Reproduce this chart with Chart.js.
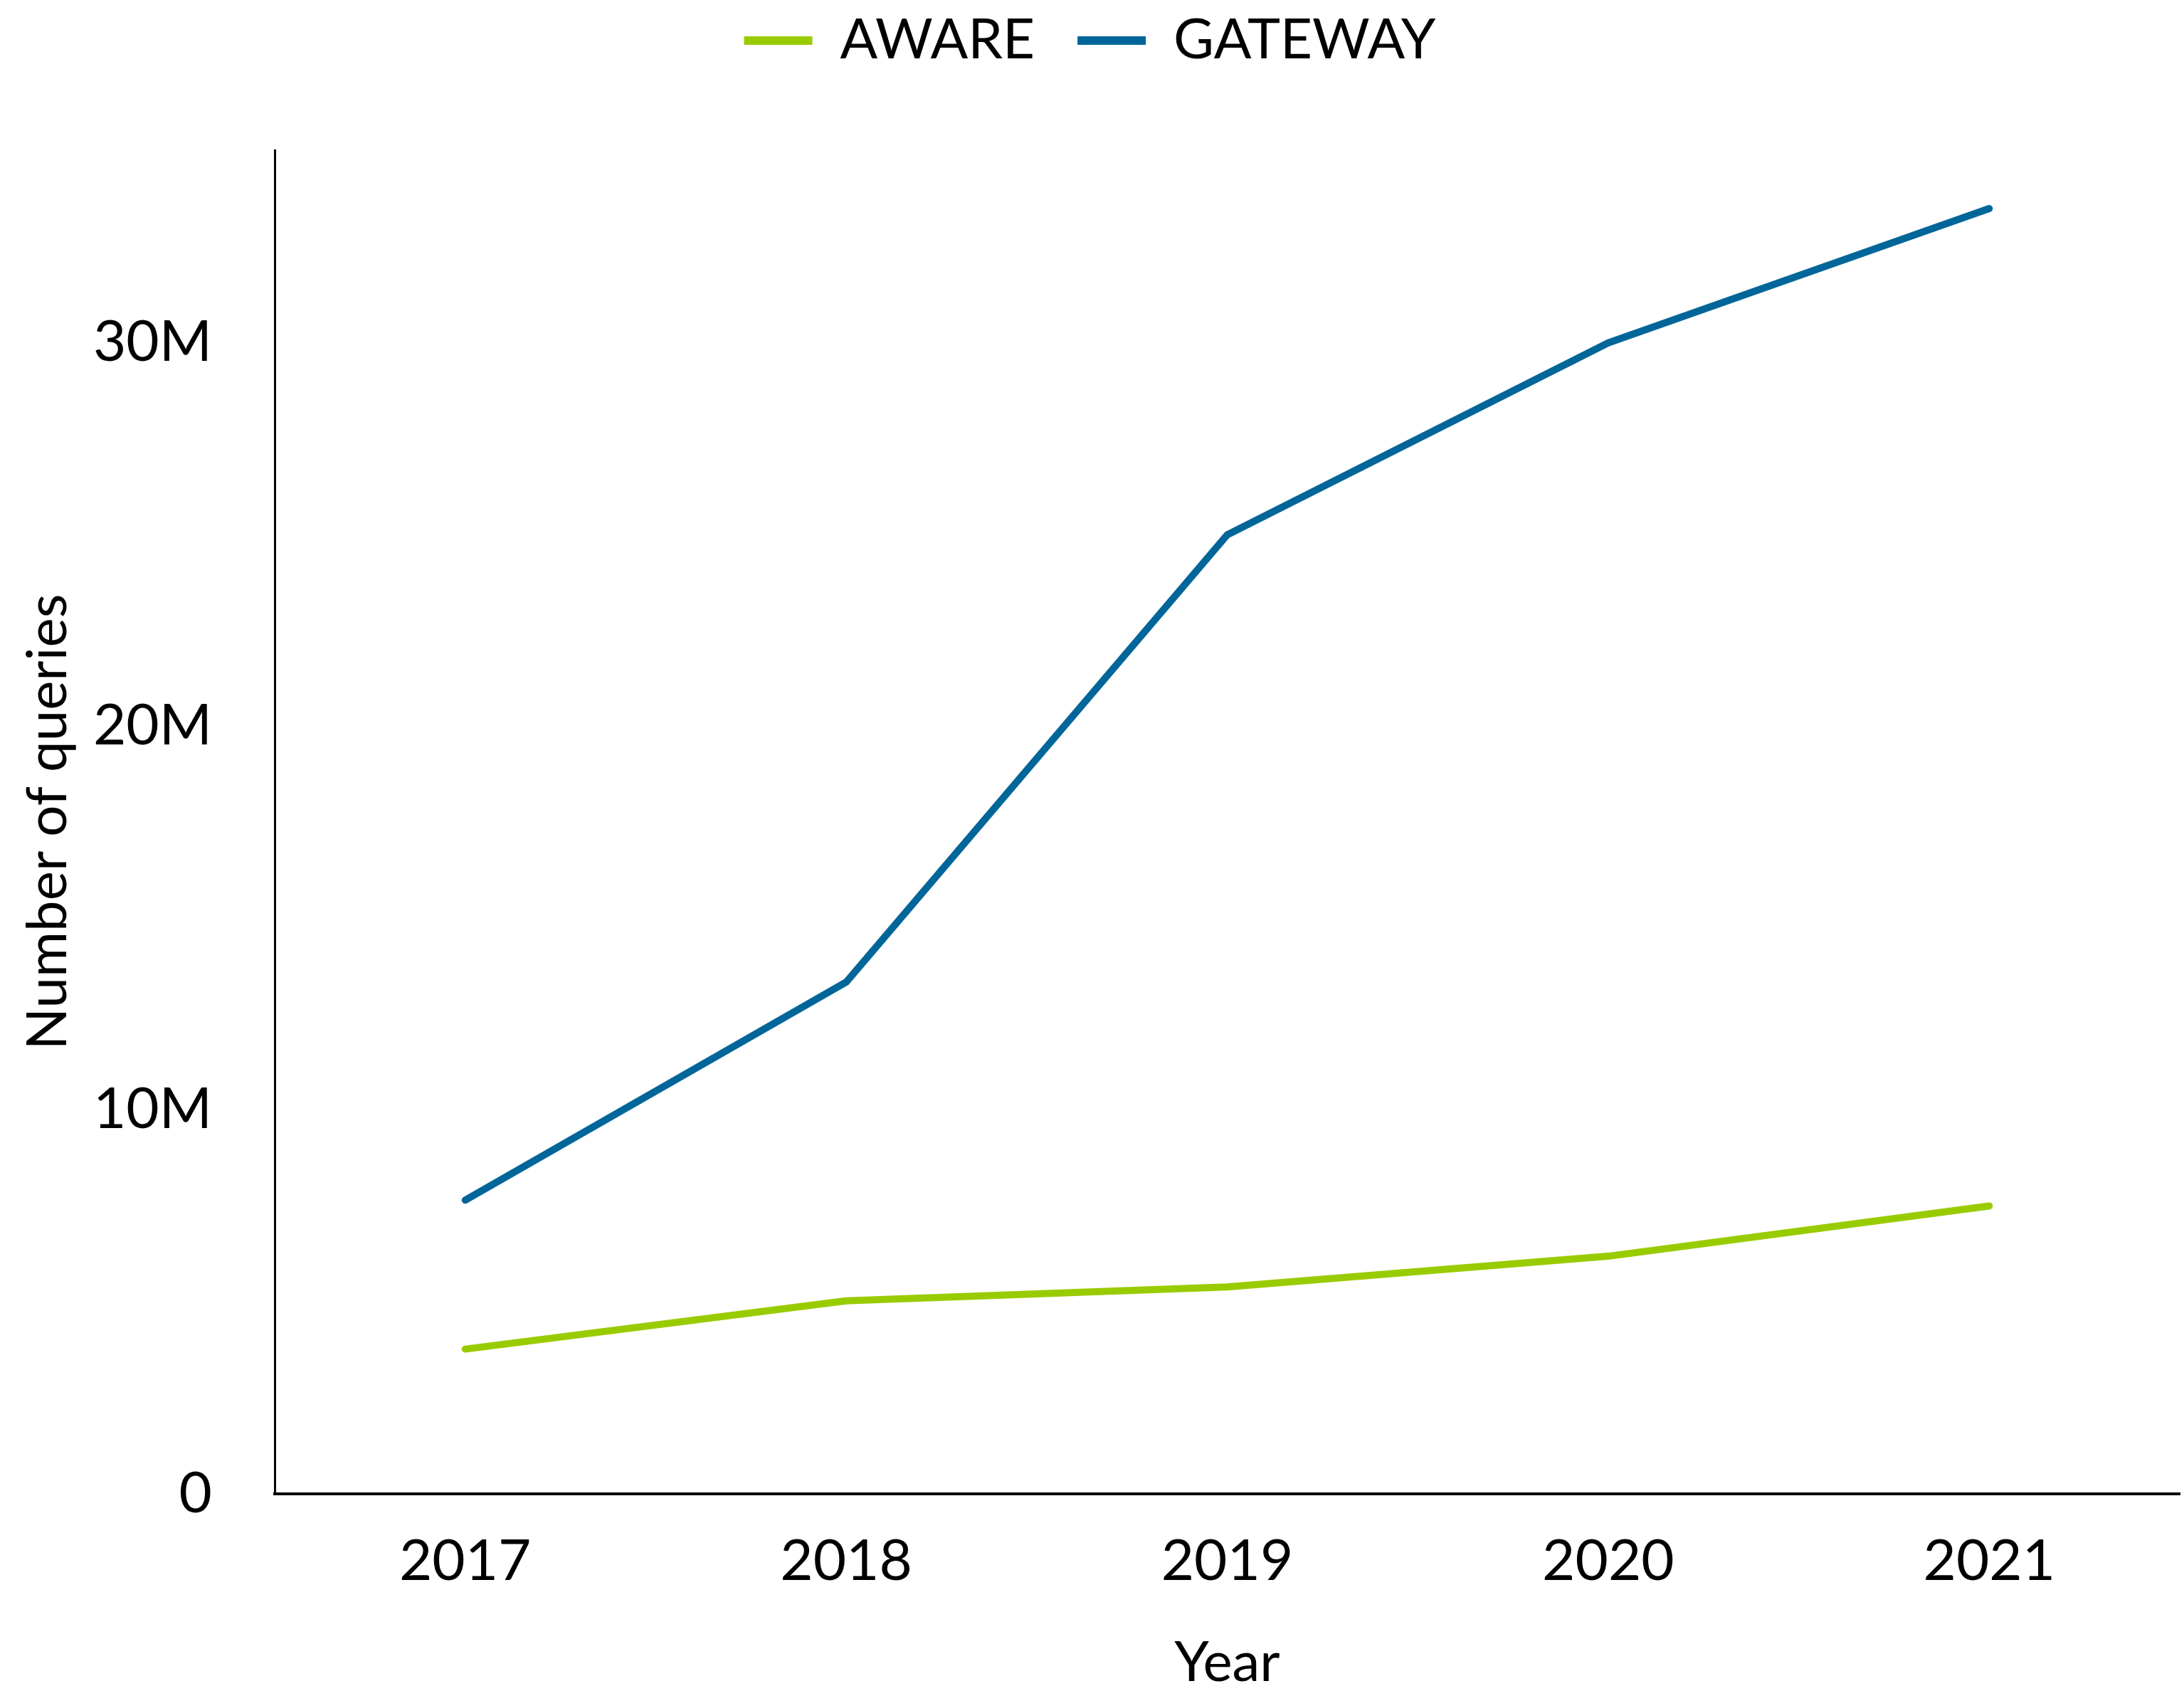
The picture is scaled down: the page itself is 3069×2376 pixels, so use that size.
<!DOCTYPE html>
<html>
<head>
<meta charset="utf-8">
<title>Number of queries per year</title>
<script src="https://cdn.jsdelivr.net/npm/chart.js@4.4.1/dist/chart.umd.min.js"></script>
<style>
  html, body { margin: 0; padding: 0; background: #fff; }
  #wrap { width: 3069px; height: 2376px; position: relative; }
</style>
</head>
<body>
<div id="wrap"><canvas id="queriesChart"></canvas></div>
<script>
// data
const years = ['2017', '2018', '2019', '2020', '2021'];
const awareQueries = [3770000, 5030000, 5390000, 6190000, 7500000];
const gatewayQueries = [7650000, 13330000, 24980000, 29980000, 33480000];
const yTickValues = [0, 10000000, 20000000, 30000000];

const AWARE_COLOR = '#99cc00';
const GATEWAY_COLOR = '#006699';

Chart.defaults.font.family = 'Lato, "Open Sans", sans-serif';
Chart.defaults.color = '#000';

// push the plot a bit further below the legend
const legendSpacer = {
    id: 'legendSpacer',
    beforeInit(chart) {
        const origFit = chart.legend.fit;
        chart.legend.fit = function () {
            origFit.bind(chart.legend)();
            this.height += 105;
        };
    }
};

const ctx = document.getElementById('queriesChart');

new Chart(ctx, {
    type: 'line',
    data: {
        labels: years,
        datasets: [{
            label: 'AWARE',
            data: awareQueries,
            borderColor: AWARE_COLOR,
            backgroundColor: AWARE_COLOR,
            borderWidth: 10,
            borderCapStyle: 'round',
            borderJoinStyle: 'round',
            pointRadius: 0,
            fill: false,
            tension: 0
        }, {
            label: 'GATEWAY',
            data: gatewayQueries,
            borderColor: GATEWAY_COLOR,
            backgroundColor: GATEWAY_COLOR,
            borderWidth: 10,
            borderCapStyle: 'round',
            borderJoinStyle: 'round',
            pointRadius: 0,
            fill: false,
            tension: 0
        }]
    },
    options: {
        responsive: true,
        maintainAspectRatio: false,
        devicePixelRatio: 1,
        animation: false,
        layout: {
            padding: { top: -42, right: 6, bottom: 0, left: 0 }
        },
        plugins: {
            tooltip: { enabled: false },
            legend: {
                position: 'top',
                labels: {
                    boxWidth: 96,
                    boxHeight: 12,
                    padding: 60,
                    font: { size: 78 },
                    generateLabels: function (chart) {
                        return Chart.defaults.plugins.legend.labels.generateLabels(chart)
                            .map(item => Object.assign(item, { lineWidth: 0 }));
                    }
                }
            }
        },
        scales: {
            x: {
                offset: true,
                grid: { display: false, drawTicks: false },
                border: { display: true, color: '#000', width: 4 },
                ticks: {
                    padding: 47,
                    font: { size: 80 }
                },
                title: {
                    display: true,
                    text: 'Year',
                    font: { size: 78, lineHeight: 1 },
                    padding: { top: 0, bottom: 0 }
                },
                afterFit: function (scale) {
                    scale.height = 277;
                }
            },
            y: {
                min: 0,
                max: 35000000,
                grid: { display: false, drawTicks: false },
                border: { display: true, color: '#000', width: 3 },
                afterBuildTicks: function (scale) {
                    scale.ticks = yTickValues.map(v => ({ value: v }));
                },
                ticks: {
                    padding: 88,
                    font: { size: 80 },
                    callback: function (value) {
                        return value === 0 ? '0' : (value / 1000000) + 'M';
                    }
                },
                title: {
                    display: true,
                    text: 'Number of queries',
                    font: { size: 78, lineHeight: 1 },
                    padding: { top: 29, bottom: 0 }
                },
                afterFit: function (scale) {
                    scale.width = 386;
                }
            }
        }
    },
    plugins: [legendSpacer]
});
</script>
</body>
</html>
